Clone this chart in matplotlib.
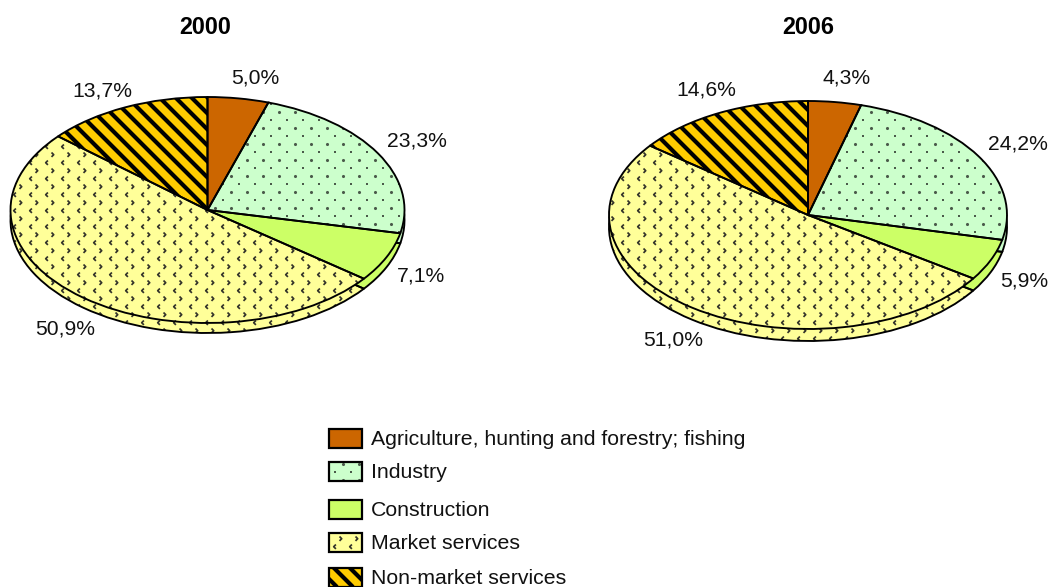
import numpy as np
import matplotlib
matplotlib.use("Agg")
import matplotlib.pyplot as plt
from matplotlib.collections import LineCollection
from matplotlib.patches import Rectangle

plt.rcParams['font.family'] = ['Liberation Sans', 'DejaVu Sans']

W = 1050
H = 587

categories = ["Agriculture, hunting and forestry; fishing", "Industry", "Construction",
              "Market services", "Non-market services"]
values_2000 = [5.0, 23.3, 7.1, 50.9, 13.7]
values_2006 = [4.3, 24.2, 5.9, 51.0, 14.6]
years = ["2000", "2006"]

colors = ["#CC6600", "#CCFFCC", "#CCFF66", "#FFFF99", "#FFCC00"]
textures = [None, "dots", None, "chevrons", "stripes"]


def lattice(lo, hi, phase, step=16):
    start = lo - (lo - phase) % step
    return np.arange(start, hi + step, step)


def add_marks(ax, xs, ys, clip, trans, **kw):
    gx, gy = np.meshgrid(xs, ys)
    s = ax.scatter(gx.ravel(), gy.ravel(), transform=trans, zorder=clip.get_zorder() + 0.1, **kw)
    s.set_clip_path(clip)


def add_texture(ax, kind, clip, box, trans):
    # lattice is in figure pixels so the pattern does not get squashed
    x0, x1, y0, y1 = box
    if kind == "dots":
        add_marks(ax, lattice(x0, x1, 7), lattice(y0, y1, 15.7), clip, trans,
                  s=5, c="#4a5a4a", marker="o", linewidths=0)
        add_marks(ax, lattice(x0, x1, 14.7), lattice(y0, y1, 7.7), clip, trans,
                  s=3, c="#4a5a4a", marker="s", linewidths=0)
    elif kind == "chevrons":
        add_marks(ax, lattice(x0, x1, 13.7), lattice(y0, y1, 2.7), clip, trans,
                  s=10, marker=[(1, 1), (0, 0), (1, -1)], facecolors="none",
                  edgecolors="#33332a", linewidths=1.25)
        add_marks(ax, lattice(x0, x1, 5.7), lattice(y0, y1, 10.7), clip, trans,
                  s=10, marker=[(-1, 1), (0, 0), (-1, -1)], facecolors="none",
                  edgecolors="#33332a", linewidths=1.25)
    elif kind == "stripes":
        segs = []
        for c in lattice(x0 - (y1 - y0), x1, 13):
            segs.append([(c + y0, y0), (c + y1, y1)])
        # segs run along x - y = const in pixels
        segs = [[(a[0] - y0, a[1]), (b[0] - y0, b[1])] for a, b in segs]
        lc = LineCollection(segs, colors="black", linewidths=3.0, transform=trans,
                            zorder=clip.get_zorder() + 0.1)
        ax.add_collection(lc, autolim=False)
        lc.set_clip_path(clip)


def draw_layer(ax, values, center, z, box, trans):
    wedges, _ = ax.pie(values, colors=colors, startangle=90, counterclock=False, center=center,
                       wedgeprops={"linewidth": 0, "zorder": z})
    for w, kind in zip(wedges, textures):
        add_texture(ax, kind, w, box, trans)
    ax.pie(values, colors=colors, startangle=90, counterclock=False, center=center,
           wedgeprops={"linewidth": 1.35, "edgecolor": "black", "fill": False, "zorder": z + 0.2})


def draw_tilted_pie(fig, values, cx, cy, rx, ry, depth, trans):
    ax = fig.add_axes([(cx - 1.25 * rx) / W, 1 - (cy + 1.25 * ry + depth) / H,
                       2.5 * rx / W, (2.5 * ry + depth) / H])
    box = (cx - rx - 2, cx + rx + 2, cy - ry - 2, cy + ry + depth + 2)
    draw_layer(ax, values, (0, -depth / ry), 1, box, trans)
    draw_layer(ax, values, (0, 0), 2, box, trans)
    ax.set_aspect("auto")
    ax.set_xlim(-1.25, 1.25)
    ax.set_ylim(-1.25 - depth / ry, 1.25)
    ax.axis("off")
    return ax


fig = plt.figure(figsize=(W / 100, H / 100), dpi=100)

# pixel coordinate layer for text, legend and the pattern lattice
overlay = fig.add_axes([0, 0, 1, 1], zorder=5)
overlay.set_xlim(0, W)
overlay.set_ylim(H, 0)
overlay.axis("off")

draw_tilted_pie(fig, values_2000, 207.5, 210, 197, 113, 10, overlay.transData)
draw_tilted_pie(fig, values_2006, 808, 215, 199, 114, 12, overlay.transData)

overlay.text(205, 27, years[0], ha="center", va="center", fontsize=16.8, fontweight="bold", color="black")
overlay.text(808, 27, years[1], ha="center", va="center", fontsize=16.8, fontweight="bold", color="black")

label_pos_2000 = [(255, 78), (417, 141), (421, 276), (65, 329), (102, 91)]
label_pos_2006 = [(847, 78), (1018, 144), (1024, 281), (673, 340), (706, 90)]
for vals, pos in ((values_2000, label_pos_2000), (values_2006, label_pos_2006)):
    for v, (x, y) in zip(vals, pos):
        overlay.text(x, y, f"{v:.1f}%".replace(".", ","), ha="center", va="center",
                     fontsize=15.2, color="#111111")

legend_y = [438, 471, 509, 542, 577]
for name, c, kind, y in zip(categories, colors, textures, legend_y):
    r = Rectangle((329, y - 9.5), 33, 19, facecolor=c, edgecolor="none", zorder=1)
    overlay.add_patch(r)
    add_texture(overlay, kind, r, (329, 362, y - 10, y + 10), overlay.transData)
    overlay.add_patch(Rectangle((329, y - 9.5), 33, 19, fill=False, edgecolor="black",
                                linewidth=1.6, zorder=2))
    overlay.text(371, y + 1.5, name, ha="left", va="center", fontsize=15.3, color="#111111")

fig.savefig("out.png", dpi=100)
